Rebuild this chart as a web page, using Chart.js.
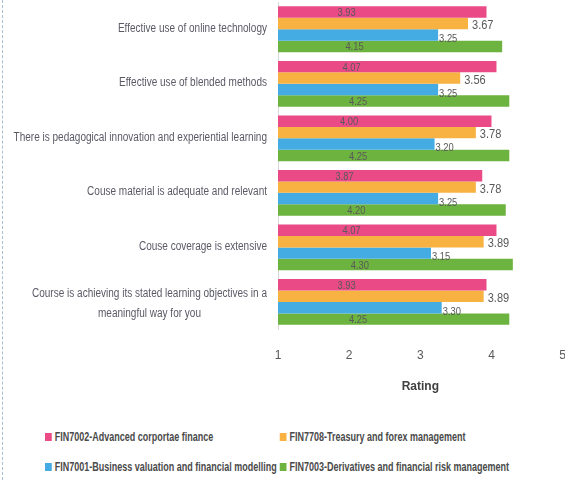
<!DOCTYPE html>
<html lang="en">
<head>
<meta charset="UTF-8" />
<title>Module feedback ratings</title>
<script src="https://cdn.jsdelivr.net/npm/chart.js"></script>
<style>
  html, body { margin:0; padding:0; background:#fff; overflow:hidden; }
  body { width:565px; height:480px; position:relative; font-family:"Liberation Sans",Arial,sans-serif; }
  .edge { position:absolute; left:2px; top:0; bottom:0; border-left:1px dashed #a9bdd3; }
  #wrap { position:absolute; left:0; top:0; width:577px; height:402px; }
  /* legend is squeezed horizontally to get a narrow face */
  #legend { position:absolute; left:45px; top:430px; width:700px; display:grid; grid-template-columns:313px auto; row-gap:16px;
            font-size:12px; font-weight:bold; color:#4a4a4a; transform:scaleX(0.75); transform-origin:0 0; white-space:nowrap; }
  #legend span.box { display:inline-block; width:9px; height:8px; margin-right:4px; }
</style>
</head>
<body>
<div class="edge"></div>
<div id="wrap"><canvas id="ratingChart"></canvas></div>
<div id="legend"></div>

<script>
  // ---- data ----
  const categories = [
    ['Effective use of online technology'],
    ['Effective use of blended methods'],
    ['There is pedagogical innovation and experiential learning'],
    ['Couse material is adequate and relevant'],
    ['Couse coverage is extensive'],
    ['Course is achieving its stated learning objectives in a', 'meaningful way for you']
  ];
  const seriesNames = [
    'FIN7002-Advanced corportae finance',
    'FIN7708-Treasury and forex management',
    'FIN7001-Business valuation and financial modelling',
    'FIN7003-Derivatives and financial risk management'
  ];
  const fin7002 = [3.93, 4.07, 4.00, 3.87, 4.07, 3.93];
  const fin7708 = [3.67, 3.56, 3.78, 3.78, 3.89, 3.89];
  const fin7001 = [3.25, 3.25, 3.20, 3.25, 3.15, 3.30];
  const fin7003 = [4.15, 4.25, 4.25, 4.20, 4.30, 4.25];
  const ratingTicks = [1, 2, 3, 4, 5];

  const colors = ['#ea4b86', '#f8b241', '#45ace3', '#6db33f'];
  const labelSpots = ['center', 'end', 'end', 'center'];
  const FONT = '"Liberation Sans",Arial,sans-serif';
  const AXIS_RIGHT = 278;
  const SQUEEZE = 0.835;

  function squeezedText(ctx, txt, x, y, sx) {
    ctx.save();
    ctx.translate(x, y);
    ctx.scale(sx, 1);
    ctx.fillText(txt, 0, 0);
    ctx.restore();
  }

  // value labels on each bar
  const valueLabels = {
    id: 'valueLabels',
    afterDatasetsDraw(chart) {
      const ctx = chart.ctx;
      ctx.save();
      ctx.fillStyle = '#595959';
      ctx.textBaseline = 'middle';
      chart.data.datasets.forEach((ds, d) => {
        chart.getDatasetMeta(d).data.forEach((bar, i) => {
          const txt = ds.data[i].toFixed(2);
          if (labelSpots[d] === 'center') {
            ctx.font = '11px ' + FONT;
            ctx.textAlign = 'center';
            squeezedText(ctx, txt, (bar.x + bar.base) / 2, bar.y + 1, 0.85);
          } else {
            ctx.font = (d === 1 ? '13px ' : '11px ') + FONT;
            ctx.textAlign = 'left';
            squeezedText(ctx, txt, bar.x + (d === 1 ? 4 : 1), bar.y + (d === 1 ? 2 : 4), 0.85);
          }
        });
      });
      ctx.restore();
    }
  };

  // category labels: right aligned, wrapped lines centred on each other
  const categoryLabels = {
    id: 'categoryLabels',
    afterDraw(chart) {
      const ctx = chart.ctx;
      const yScale = chart.scales.y;
      ctx.save();
      ctx.font = '12px ' + FONT;
      ctx.fillStyle = '#5a5a66';
      ctx.textAlign = 'center';
      ctx.textBaseline = 'middle';
      categories.forEach((lines, i) => {
        const w = Math.max(...lines.map(l => ctx.measureText(l).width)) * SQUEEZE;
        const cx = AXIS_RIGHT - 11 - w / 2;
        const y0 = yScale.getPixelForTick(i) - (lines.length - 1) * 10 + (lines.length > 1 ? 2 : -1);
        lines.forEach((l, k) => squeezedText(ctx, l, cx, y0 + k * 20, SQUEEZE));
      });
      ctx.restore();
    }
  };

  const chart = new Chart(document.getElementById('ratingChart'), {
    type: 'bar',
    data: {
      labels: categories,
      datasets: seriesNames.map((name, k) => ({
        label: name,
        data: [fin7002, fin7708, fin7001, fin7003][k],
        backgroundColor: colors[k],
        borderWidth: 0,
        barPercentage: 1,
        categoryPercentage: 0.84
      }))
    },
    options: {
      indexAxis: 'y',
      responsive: true,
      maintainAspectRatio: false,
      animation: false,
      layout: { padding: { top: 2, left: 0, right: 0, bottom: 0 } },
      plugins: {
        legend: { display: false },
        tooltip: { enabled: false }
      },
      scales: {
        x: {
          min: ratingTicks[0],
          max: ratingTicks[ratingTicks.length - 1],
          afterBuildTicks: s => { s.ticks = ratingTicks.map(v => ({ value: v })); },
          grid: { display: false },
          border: { display: false },
          ticks: { color: '#595959', padding: 11, font: { family: FONT, size: 12 } },
          title: {
            display: true, text: 'Rating', color: '#404040',
            padding: { top: 6, bottom: 8 },
            font: { family: FONT, size: 12, weight: 'bold' }
          }
        },
        y: {
          grid: { display: false },
          border: { display: true, color: '#d9d9d9' },
          ticks: { display: false },
          afterFit: s => { s.width = AXIS_RIGHT; }
        }
      }
    },
    plugins: [valueLabels, categoryLabels]
  });

  // legend in two columns, taken from the chart's own legend items
  const legendBox = document.getElementById('legend');
  chart.options.plugins.legend.labels.generateLabels(chart).forEach(item => {
    const div = document.createElement('div');
    div.innerHTML = '<span class="box" style="background:' + item.fillStyle + '"></span>' + item.text;
    legendBox.appendChild(div);
  });
</script>
</body>
</html>
